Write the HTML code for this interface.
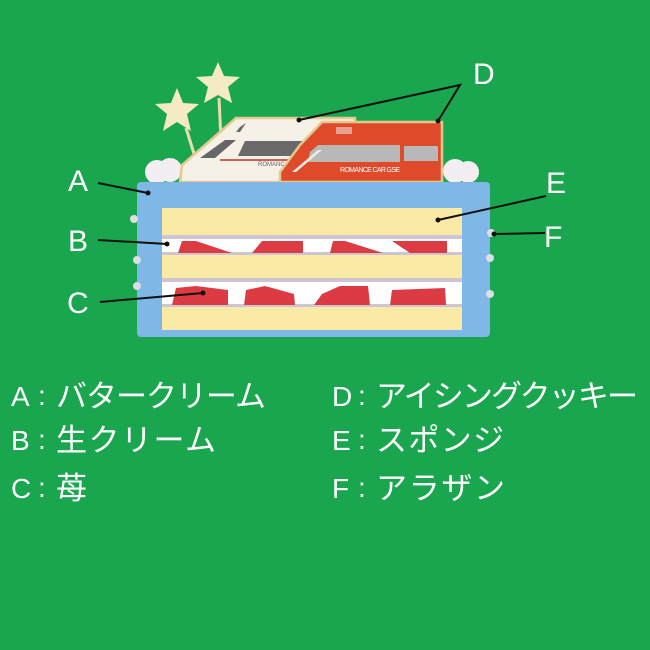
<!DOCTYPE html>
<html><head><meta charset="utf-8"><style>
html,body{margin:0;padding:0;background:#1aa64f;}
svg{display:block}
text{font-family:"Liberation Sans","Noto Sans CJK JP",sans-serif;fill:#fff}
</style></head><body>
<svg width="650" height="650" viewBox="0 0 650 650" xmlns="http://www.w3.org/2000/svg">
<rect width="650" height="650" fill="#1aa64f"/>
<!-- stars -->
<line x1="186" y1="128" x2="196" y2="160" stroke="#e8dcb0" stroke-width="3"/>
<line x1="219" y1="98" x2="221" y2="140" stroke="#e8dcb0" stroke-width="3"/>
<polygon points="177,88 183,103 199,104 187,114 191,131 177,122 163,131 167,114 155,104 171,103" fill="#f4ebc4"/>
<polygon points="218,62 224,76 240,77 228,87 232,103 218,95 204,103 208,87 196,77 212,76" fill="#f4ebc4"/>
<!-- clouds -->
<g fill="#f2eef2">
<circle cx="157" cy="172" r="12"/><circle cx="170" cy="170" r="12"/><circle cx="455" cy="171" r="12"/><circle cx="468" cy="172" r="11"/>
</g>
<!-- white train -->
<polygon points="236,118 355,118 355,182 180,182 182,165" fill="#f6f1e6" stroke="#e3c98e" stroke-width="2.5"/>
<polygon points="225,140 236,140 215,158 200,158" fill="#666"/>
<polygon points="245,141 340,141 340,156 238,156" fill="#6a6a6a"/>
<line x1="220" y1="160" x2="320" y2="160" stroke="#c0302a" stroke-width="1.5"/>
<polygon points="240,127 246,123 240,132 236,132" fill="#666"/>
<!-- red train -->
<polygon points="322,122 442,122 442,182 280,182 280,172 300,145" fill="#df4a2b" stroke="#e3c98e" stroke-width="2.5"/>
<polygon points="318,145 400,145 400,162 308,162 310,152" fill="#b8b8b8"/>
<rect x="404" y="146" width="34" height="15" fill="#b8b8b8"/>
<polygon points="292,172 318,150 322,150 296,172" fill="#f1ece6"/>
<rect x="336" y="127" width="16" height="7" fill="#e8a090"/>
<text x="340" y="172" font-size="7" textLength="60" style="fill:#fff">ROMANCE CAR GSE</text>
<text x="258" y="166" font-size="6" style="fill:#666">ROMANC</text>
<!-- cake -->
<rect x="137" y="182" width="353" height="155" rx="4" fill="#7fb7e6"/>
<rect x="162" y="208" width="300" height="122" fill="#fbe9a6"/>
<rect x="162" y="235" width="300" height="4" fill="#cdc5d4"/>
<rect x="162" y="239" width="300" height="14" fill="#fff"/>
<rect x="162" y="252" width="300" height="3" fill="#cdc5d4"/>
<rect x="162" y="278" width="300" height="4" fill="#cdc5d4"/>
<rect x="162" y="282" width="300" height="23" fill="#fff"/>
<rect x="162" y="304" width="300" height="3" fill="#cdc5d4"/>
<g fill="#dd3b44">
<polygon points="178,253 182,241 196,241 232,253"/>
<polygon points="252,253 262,241 303,241 303,253"/>
<polygon points="330,253 333,241 345,241 383,253"/>
<polygon points="392,241 447,241 447,253 410,253"/>
<polygon points="172,305 176,288 196,286 228,290 228,305"/>
<polygon points="244,305 246,290 265,286 294,294 295,305"/>
<polygon points="314,305 322,294 340,286 368,286 370,305"/>
<polygon points="392,290 445,288 446,305 390,305"/>
</g>
<g fill="#dcdde6">
<circle cx="134" cy="219" r="4"/><circle cx="137" cy="260" r="4"/><circle cx="137" cy="286" r="4"/>
<circle cx="490" cy="258" r="4"/><circle cx="490" cy="294" r="4"/><circle cx="491" cy="233" r="4"/>
</g>
<!-- leader lines -->
<g stroke="#111" stroke-width="2" fill="none">
<polyline points="98,183 148,193"/>
<polyline points="98,240 167,244"/>
<polyline points="100,302 203,293"/>
<polyline points="299,120 460,85 438,121"/>
<polyline points="546,196 438,220"/>
<polyline points="545,233 494,234"/>
</g>
<g fill="#111">
<circle cx="148" cy="193" r="2.5"/><circle cx="167" cy="244" r="2.5"/><circle cx="203" cy="293" r="2.5"/>
<circle cx="299" cy="120" r="2.5"/><circle cx="438" cy="121" r="2.5"/><circle cx="438" cy="220" r="2.5"/><circle cx="494" cy="234" r="2.5"/>
</g>
<!-- letters -->
<g font-size="30">
<text x="68" y="191">A</text>
<text x="68" y="251">B</text>
<text x="67" y="313">C</text>
<text x="473" y="84">D</text>
<text x="546" y="193">E</text>
<text x="544" y="247">F</text>
</g>
<!-- legend -->
<g font-size="28">
<text x="11" y="406">A</text><text x="38" y="405">:</text>
<text x="11" y="450">B</text><text x="38" y="449">:</text>
<text x="11" y="498">C</text><text x="38" y="497">:</text>
<text x="332" y="406">D</text><text x="358" y="405">:</text>
<text x="332" y="450">E</text><text x="358" y="449">:</text>
<text x="332" y="498">F</text><text x="358" y="497">:</text>
</g>
<g font-size="31">
<text x="56" y="407" textLength="210">バタークリーム</text>
<text x="56" y="451" textLength="160">生クリーム</text>
<text x="56" y="499">苺</text>
<text x="376" y="407" textLength="262">アイシングクッキー</text>
<text x="376" y="451" textLength="128">スポンジ</text>
<text x="376" y="499" textLength="129">アラザン</text>
</g>
</svg>
</body></html>
